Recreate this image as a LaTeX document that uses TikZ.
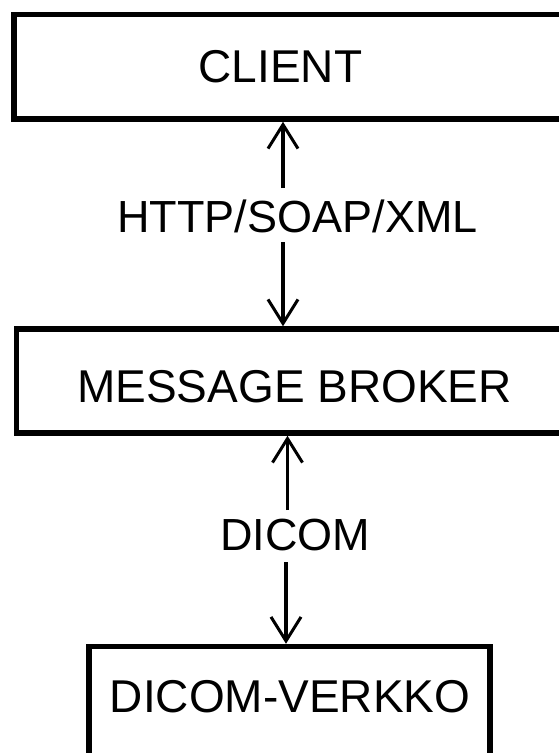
\documentclass[tikz,border=0pt]{standalone}
\usepackage{fontspec}
\setmainfont{Liberation Sans}
\usetikzlibrary{arrows.meta}

\tikzset{
  box/.style={draw=black, line width=5.5pt, rectangle, inner sep=0pt},
  boxtext/.style={anchor=base, inner sep=0pt, font=\fontsize{46}{50}\selectfont},
  linktext/.style={anchor=base, inner sep=0pt, font=\fontsize{45}{50}\selectfont},
  arr/.style={line width=3.5pt, -{Straight Barb[length=24pt, width=30pt, line width=3pt]}}
}

\begin{document}
\begin{tikzpicture}[x=1pt, y=-1pt]
  \useasboundingbox (0,0) rectangle (558,753);

  % three stacked boxes; the right and bottom edges run off the page
  \node[box, minimum width=548pt, minimum height=104.5pt] (client) at (288,66.75) {};
  \node[box, minimum width=545.5pt, minimum height=104pt] (broker) at (289.25,381) {};
  \node[box, minimum width=401pt, minimum height=113.5pt] (dicomnet) at (289.5,703.25) {};

  % box captions
  \node[boxtext] (clienttxt) at (280.5,82) {CLIENT};
  \node[boxtext] (brokertxt) at (294.5,402) {MESSAGE BROKER};
  \node[boxtext] (dicomnettxt) at (290,712) {DICOM-VERKKO};

  % protocol labels between the boxes
  \node[linktext] (http) at (297.5,232) {HTTP/SOAP/XML};
  \node[linktext] (dicom) at (295,550) {DICOM};

  % split arrows around the protocol labels
  \coordinate (h1) at (283,188);
  \coordinate (h2) at (283,242);
  \draw[arr] (h1) -- (h1 |- client.south);
  \draw[arr] (h2) -- (h2 |- broker.north);

  \coordinate (d1) at (287.5,510);
  \coordinate (d2) at (286,562);
  \draw[arr] (d1) -- (d1 |- broker.south);
  \draw[arr] (d2) -- (d2 |- dicomnet.north);
\end{tikzpicture}
\end{document}
